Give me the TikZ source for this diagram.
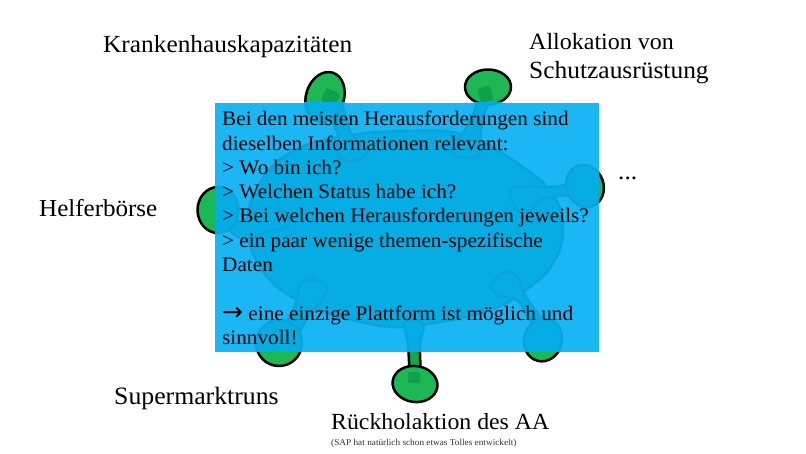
\documentclass[tikz,border=0pt]{standalone}
\usepackage{fontspec}
\setmainfont[FakeStretch=1.03]{Liberation Serif}
\definecolor{spike}{RGB}{29,184,84}
\definecolor{stem}{RGB}{18,168,78}
\definecolor{nub}{RGB}{14,160,74}
\definecolor{edge}{RGB}{0,0,0}
\definecolor{boxblue}{RGB}{27,183,245}
\definecolor{coverfill}{RGB}{5,173,228}
\definecolor{coveredge}{RGB}{10,163,220}
\tikzset{
  outline/.style={draw=edge,line width=2.5pt,line join=round},
  bodyshape/.style={outline,fill=spike},
  stemshape/.style={outline,fill=stem},
  headshape/.style={outline,fill=spike},
  nubshape/.style={fill=nub,rounded corners=2pt},
  label/.style={inner sep=0pt,anchor=west},
}
\newcommand{\virusShapes}{%
\draw[bodyshape] plot[smooth cycle,tension=.7] coordinates{(247,225) (262,180) (295,150) (345,136) (405,131) (465,135) (520,165) (553,195) (563,230) (552,265) (523,292) (490,310) (440,322) (395,327) (345,318) (297,300) (262,270)};
\draw[stemshape] plot[smooth cycle,tension=.6] coordinates{(323,92) (337,90) (345,115) (352,135) (367,152) (352,161) (338,155) (338,135) (328,112)};
\draw[stemshape] plot[smooth cycle,tension=.6] coordinates{(482,88) (494,90) (484,115) (480,140) (479,155) (465,158) (452,152) (462,135) (474,112)};
\draw[stemshape] plot[smooth cycle,tension=.6] coordinates{(220,202) (232,205) (240,222) (262,208) (285,212) (287,226) (265,232) (245,240) (225,225)};
\draw[stemshape] plot[smooth cycle,tension=.6] coordinates{(585,180) (585,194) (560,196) (540,200) (530,212) (517,210) (510,195) (515,187) (533,187) (560,186)};
\draw[stemshape] plot[smooth cycle,tension=.6] coordinates{(278,340) (292,345) (305,322) (322,300) (327,288) (315,280) (300,284) (297,300) (288,320)};
\draw[stemshape] plot[smooth cycle,tension=.6] coordinates{(411,380) (420,380) (420,345) (423,324) (405,322) (408,345)};
\draw[stemshape] plot[smooth cycle,tension=.6] coordinates{(540,335) (548,328) (535,310) (523,292) (518,277) (505,272) (491,285) (500,296) (517,300) (530,320)};
\draw[headshape,rotate around={-18:(325,97)}] (325,97) ellipse (19pt and 25.5pt);
\draw[headshape] (488,87) ellipse (23pt and 17.5pt);
\draw[headshape] (218,210) ellipse (20.5pt and 23pt);
\draw[headshape,rotate around={20:(585,186)}] (585,186) ellipse (18.5pt and 21.5pt);
\draw[headshape] (279,343) ellipse (23pt and 23pt);
\draw[headshape,rotate around={-8:(415,384)}] (415,384) ellipse (22.5pt and 18pt);
\draw[headshape,rotate around={-15:(543,340)}] (543,340) ellipse (19pt and 21.5pt);
\fill[nubshape,rotate around={-25:(330,97)}] (323,90) rectangle (338,104);
\fill[nubshape,rotate around={15:(485,94)}] (479,87) rectangle (492,102);
\fill[nubshape] (408,372) rectangle (420,383);
}
\begin{document}
\begin{tikzpicture}[x=1pt,y=-1pt]
\useasboundingbox (0,0) rectangle (806,454);
\fill[white] (0,0) rectangle (806,454);
\virusShapes
\fill[boxblue] (215,103) rectangle (599,352);
\begin{scope}
\clip (215,103) rectangle (599,352);
\colorlet{spike}{coverfill}\colorlet{stem}{coverfill}\colorlet{nub}{coverfill}\colorlet{edge}{coveredge}
\virusShapes
\end{scope}
\node[inner sep=0pt,anchor=north west,align=left,text=black,font=\fontsize{20.6}{24.3}\selectfont] (panelText) at (222,111)
 {Bei den meisten Herausforderungen sind\\
  dieselben Informationen relevant:\\
  > Wo bin ich?\\
  > Welchen Status habe ich?\\
  > Bei welchen Herausforderungen jeweils?\\
  > ein paar wenige themen-spezifische\\
  Daten\\
  \mbox{}\\
  {\fontspec{DejaVu Sans}\fontsize{25}{24.3}\selectfont →} eine einzige Plattform ist möglich und\\
  sinnvoll!};
\node[inner sep=0pt,text={rgb,255:red,20;green,160;blue,220},font=\fontsize{9}{9}\selectfont] (dots) at (589,347) {. . .};
\node[label,font=\fontsize{24.6}{29}\selectfont] (kh) at (103,47) {Krankenhauskapazitäten};
\node[label,align=left,font=\fontsize{24.7}{29}\selectfont] (al) at (529,59) {{\fontsize{23.3}{29}\selectfont Allokation von}\\Schutzausrüstung};
\node[label,font=\fontsize{24.5}{29}\selectfont] (more) at (618,178) {...};
\node[label,font=\fontsize{24.3}{29}\selectfont] (hb) at (39,208) {Helferbörse};
\node[label,font=\fontsize{25}{29}\selectfont] (sm) at (114,398) {Supermarktruns};
\node[label,font=\fontsize{23.1}{29}\selectfont] (rk) at (331,422) {Rückholaktion des AA};
\node[inner sep=0pt,anchor=west,font=\fontsize{9}{10}\selectfont,text=black!80] (sap) at (331,443) {(SAP hat natürlich schon etwas Tolles entwickelt)};
\end{tikzpicture}
\end{document}
